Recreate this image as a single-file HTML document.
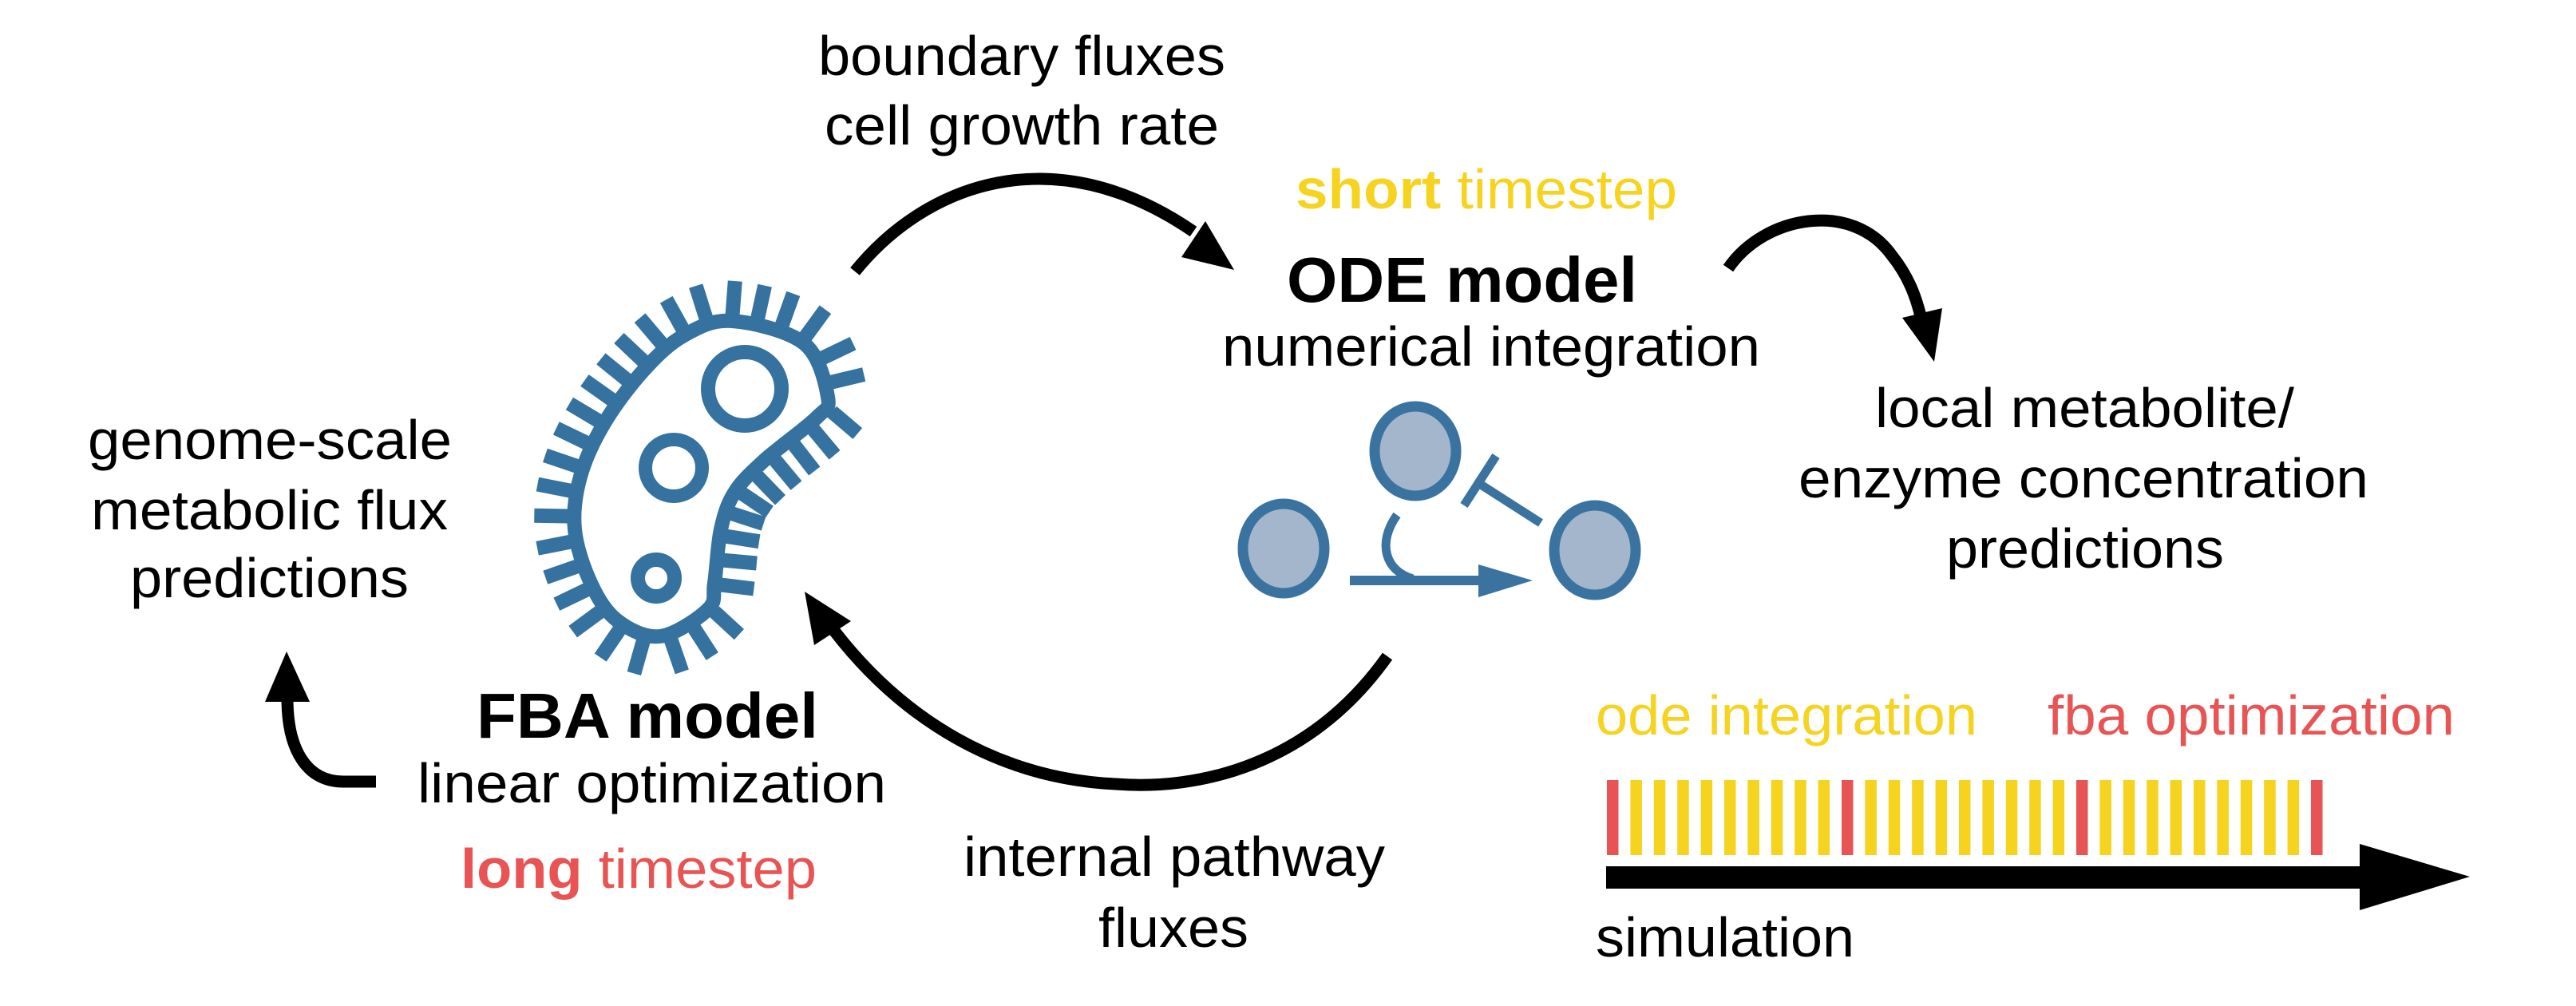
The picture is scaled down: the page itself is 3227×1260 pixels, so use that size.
<!DOCTYPE html>
<html><head><meta charset="utf-8"><style>
html,body{margin:0;padding:0;background:#fff}
svg{display:block}
text{font-family:"Liberation Sans",Arial,sans-serif;font-size:70px;fill:#000}
</style></head><body>
<svg id="fig" width="3227" height="1260" viewBox="0 0 3227 1260" xmlns="http://www.w3.org/2000/svg">
<g>
<text x="1025" y="94" textLength="510" lengthAdjust="spacingAndGlyphs">boundary fluxes</text>
<text x="1033" y="181" textLength="494" lengthAdjust="spacingAndGlyphs">cell growth rate</text>
<text x="110" y="575" textLength="456" lengthAdjust="spacingAndGlyphs">genome-scale</text>
<text x="114" y="663" textLength="447" lengthAdjust="spacingAndGlyphs">metabolic flux</text>
<text x="163" y="748" textLength="349" lengthAdjust="spacingAndGlyphs">predictions</text>
<text x="597" y="924" textLength="428" lengthAdjust="spacingAndGlyphs" style="font-weight:bold;font-size:80px">FBA model</text>
<text x="523" y="1005" textLength="587" lengthAdjust="spacingAndGlyphs">linear optimization</text>
<text x="577" y="1112" textLength="446" lengthAdjust="spacingAndGlyphs" style="fill:#e85454"><tspan style="font-weight:bold;fill:#e85454">long</tspan> timestep</text>
<text x="1207" y="1097" textLength="528" lengthAdjust="spacingAndGlyphs">internal pathway</text>
<text x="1376" y="1186" textLength="188" lengthAdjust="spacingAndGlyphs">fluxes</text>
<text x="1623" y="261" textLength="478" lengthAdjust="spacingAndGlyphs" style="fill:#f5d31f"><tspan style="font-weight:bold;fill:#f5d31f">short</tspan> timestep</text>
<text x="1612" y="378" textLength="439" lengthAdjust="spacingAndGlyphs" style="font-weight:bold;font-size:80px">ODE model</text>
<text x="1531" y="458" textLength="674" lengthAdjust="spacingAndGlyphs">numerical integration</text>
<text x="2349" y="535" textLength="525" lengthAdjust="spacingAndGlyphs">local metabolite/</text>
<text x="2253" y="623" textLength="714" lengthAdjust="spacingAndGlyphs">enzyme concentration</text>
<text x="2438" y="711" textLength="348" lengthAdjust="spacingAndGlyphs">predictions</text>
<text x="1999" y="920" textLength="478" lengthAdjust="spacingAndGlyphs" style="fill:#f5d31f">ode integration</text>
<text x="2565" y="920" textLength="510" lengthAdjust="spacingAndGlyphs" style="fill:#e85454">fba optimization</text>
<text x="1999" y="1198" textLength="324" lengthAdjust="spacingAndGlyphs">simulation</text>
</g>
<g fill="none" stroke="#000" stroke-width="15">
<path d="M1071,340 C1160,230 1320,170 1495,290"/>
<polygon points="1510,277 1546,338 1480,322" fill="#000" stroke="none"/>
<path d="M1738,822 C1640,960 1500,990 1398,982 C1250,975 1130,900 1045,790"/>
<polygon points="1008,741 1066,778 1020,808" fill="#000" stroke="none"/>
<path d="M471,979 L430,979 C385,979 360,940 360,875"/>
<polygon points="359,816 332,879 388,879" fill="#000" stroke="none"/>
<path d="M2165,336 C2210,270 2320,250 2370,320 C2390,345 2400,370 2407,400"/>
<polygon points="2383,398 2433,386 2423,453" fill="#000" stroke="none"/>
</g>
<g id="bact" fill="none" stroke="#3572a0">
<path id="body" stroke-width="18"/>
<circle cx="933" cy="487" r="46" stroke-width="18"/>
<circle cx="844" cy="586" r="35.5" stroke-width="17"/>
<circle cx="822" cy="724" r="23" stroke-width="18"/>
</g>
<defs><clipPath id="clipR"><rect x="0" y="0" width="2056" height="1260"/></clipPath></defs>
<g stroke="#3a73a0" clip-path="url(#clipR)">
<ellipse cx="1773" cy="565" rx="51" ry="56" fill="#a3b6cb" stroke-width="13"/>
<ellipse cx="1608" cy="687" rx="51" ry="56" fill="#a3b6cb" stroke-width="13"/>
<ellipse cx="1998" cy="689" rx="51" ry="56" fill="#a3b6cb" stroke-width="13"/>
<line x1="1691" y1="727" x2="1860" y2="727" stroke-width="12"/>
<polygon points="1852,707 1920,727 1852,748" fill="#3a73a0" stroke="none"/>
<path d="M1750,645 C1725,680 1735,715 1770,725" fill="none" stroke-width="11"/>
<line x1="1930" y1="655" x2="1852" y2="605" stroke-width="11"/>
<line x1="1874" y1="571" x2="1834" y2="633" stroke-width="11"/>
</g>
<g id="ticks"></g>
<g>
<rect x="2012" y="1085" width="950" height="28" fill="#000"/>
<polygon points="2956,1057 3094,1098 2956,1140" fill="#000"/>
</g>
</svg>
<script>
// tick kinds along simulation timeline: 'f' = fba optimization, 'o' = ode integration
const tickKinds = ['f','o','o','o','o','o','o','o','o','o','f','o','o','o','o','o','o','o','o','o','f','o','o','o','o','o','o','o','o','o','f'];
const NS = 'http://www.w3.org/2000/svg';
const tg = document.getElementById('ticks');
const x0 = 2013, step = 29.4;
tickKinds.forEach((k, i) => {
  const r = document.createElementNS(NS, 'rect');
  r.setAttribute('x', x0 + i * step);
  r.setAttribute('y', 977);
  r.setAttribute('width', 14.5);
  r.setAttribute('height', 94);
  r.setAttribute('fill', k === 'f' ? '#e85454' : '#f5d31f');
  
  
  tg.appendChild(r);
});
// bacterium body outline (smooth closed Catmull-Rom)
const pts = [[917,402],[1007,430],[1037,497],[1023,523],[957,577],[920,617],[903,663],[895,730],[887,763],[827,797],[773,777],[740,730],[720,663],[727,597],[757,530],[807,463],[857,420]];
let d = '';
const n = pts.length;
for (let i = 0; i < n; i++) {
  const p0 = pts[(i - 1 + n) % n], p1 = pts[i], p2 = pts[(i + 1) % n], p3 = pts[(i + 2) % n];
  if (i === 0) d += 'M' + p1[0] + ',' + p1[1];
  const c1 = [p1[0] + (p2[0] - p0[0]) / 6, p1[1] + (p2[1] - p0[1]) / 6];
  const c2 = [p2[0] - (p3[0] - p1[0]) / 6, p2[1] - (p3[1] - p1[1]) / 6];
  d += 'C' + c1[0].toFixed(1) + ',' + c1[1].toFixed(1) + ' ' + c2[0].toFixed(1) + ',' + c2[1].toFixed(1) + ' ' + p2[0] + ',' + p2[1];
}
d += 'Z';
const body = document.getElementById('body');
body.setAttribute('d', d);
const L = body.getTotalLength();
const count = 36;
const bg = document.getElementById('bact');
for (let i = 0; i < count; i++) {
  const s = (i / count) * L;
  const a = body.getPointAtLength(s);
  const b = body.getPointAtLength((s + 2) % L);
  let tx = b.x - a.x, ty = b.y - a.y;
  const m = Math.hypot(tx, ty) || 1; tx /= m; ty /= m;
  const nx = ty, ny = -tx;
  const ln = document.createElementNS(NS, 'line');
  ln.setAttribute('x1', (a.x + nx * 8).toFixed(1));
  ln.setAttribute('y1', (a.y + ny * 8).toFixed(1));
  ln.setAttribute('x2', (a.x + nx * 50).toFixed(1));
  ln.setAttribute('y2', (a.y + ny * 50).toFixed(1));
  ln.setAttribute('stroke-width', '18');
  
  
  bg.appendChild(ln);
}
</script>
</body></html>
